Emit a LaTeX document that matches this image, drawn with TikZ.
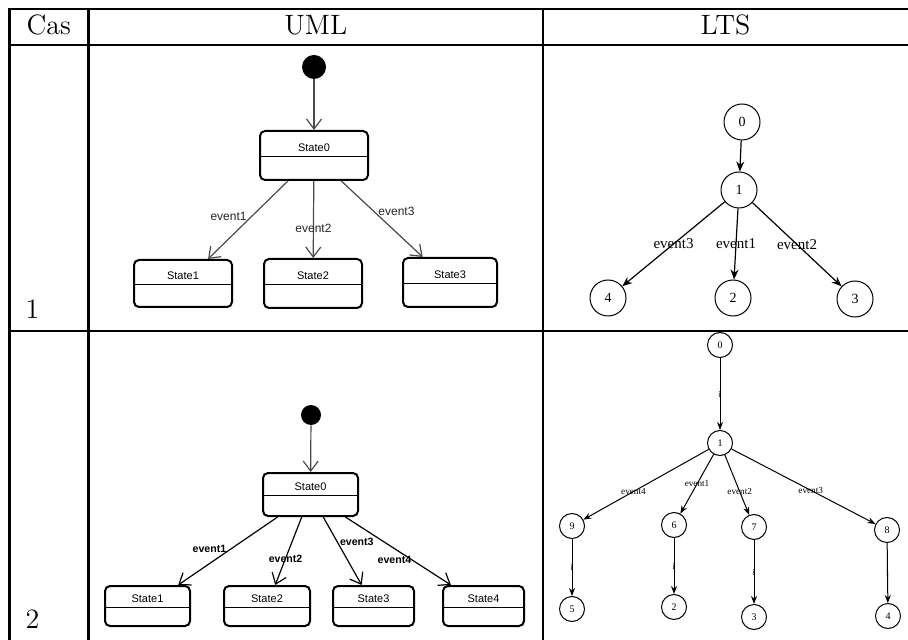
\documentclass[tikz,border=0pt]{standalone}
\usepackage{fontspec}
\usepackage{tikz}
\usetikzlibrary{arrows.meta,positioning}
\newfontfamily\umlfont{Liberation Sans}
\newfontfamily\ltsfont{Liberation Serif}
\definecolor{cR}{HTML}{000000}
\definecolor{cE}{HTML}{4a4a4a}
\tikzset{
  rule/.style={line width=1.4pt,cR},
  hd/.style={anchor=base,font=\fontsize{14}{16}\selectfont},
  initdot/.style={circle,fill=black,inner sep=0pt,minimum size=#1},
  ustate/.style={draw,line width=1pt,rounded corners=2.5pt,inner sep=0pt,
    path picture={\draw[line width=.5pt]
      ([yshift=-.5pt]path picture bounding box.west) --
      ([yshift=-.5pt]path picture bounding box.east);},
    label={[font=\umlfont\fontsize{5.5}{6}\selectfont,yshift=3.8pt]center:#1}},
  uarr/.style={-{Straight Barb[length=5pt,width=7.5pt]},cE,line width=.6pt},
  elab/.style={font=\umlfont\fontsize{6}{7}\selectfont,text=black!85,inner sep=2pt},
  elabb/.style={font=\umlfont\bfseries\fontsize{5.3}{6}\selectfont,text=black,inner sep=2pt},
  lnode/.style={circle,draw,line width=.5pt,inner sep=0pt,minimum size=#1},
  larr/.style={-{Stealth[length=5pt,width=4pt]},line width=.6pt},
  sarr/.style={-{Stealth[length=4pt,width=3pt]},line width=.5pt},
  llab/.style={font=\ltsfont\fontsize{7.5}{8}\selectfont,inner sep=0pt},
  slab/.style={font=\ltsfont\fontsize{4.6}{5}\selectfont,inner sep=0pt},
  ilab/.style={font=\ltsfont\fontsize{3.5}{4}\selectfont,inner sep=0pt},
}

\begin{document}
\begin{tikzpicture}[x=.5pt,y=-.5pt]
  \useasboundingbox (0,0) rectangle (908,640);
  \foreach \y in {9,45,331} \draw[rule] (8.8,\y) -- (908,\y);
  \foreach \x in {9.5,88.5,543} \draw[rule] (\x,8.3) -- (\x,640);
  \node[hd] (hcas) at (48.75,35) {Cas};
  \node[hd] (huml) at (315.75,35) {UML};
  \node[hd] (hlts) at (725.5,35) {LTS};
  \node[hd] (case1) at (32.5,319) {1};
  \node[hd] (case2) at (32.5,628) {2};

  % UML, case 1
  \node[initdot=12pt] (i1) at (314,67) {};
  \node[ustate=State0,minimum width=54pt,minimum height=24.5pt] (a0) at (314,155.5) {};
  \node[ustate=State1,minimum width=49pt,minimum height=23.5pt] (a1) at (183,283.5) {};
  \node[ustate=State2,minimum width=49pt,minimum height=24.5pt] (a2) at (313,283.5) {};
  \node[ustate=State3,minimum width=47pt,minimum height=24.5pt] (a3) at (450,282.5) {};
  \draw[uarr] (i1) -- (a0);
  \draw[uarr] (a0) -- node[elab,pos=.46,left]{event1} (a1);
  \draw[uarr] (a0) -- node[elab,pos=.62]{event2} (a2);
  \draw[uarr] (a0) -- node[elab,pos=.4,right]{event3} (a3);

  % UML, case 2
  \node[initdot=10pt] (i2) at (311,415) {};
  \node[ustate=State0,minimum width=47.5pt,minimum height=21.5pt] (b0) at (310.5,494.5) {};
  \foreach \n/\x/\w in {1/147.5/42.5,2/267/43,3/373.5/40.5,4/483.5/40.5}
    \node[ustate=State\n,minimum width=\w pt,minimum height=20pt] (b\n) at (\x,606) {};
  \draw[uarr] (i2) -- (b0);
  \draw[uarr,black] (b0) -- node[elabb,pos=.47,left]{event1} (b1);
  \draw[uarr,black] (b0) -- node[elabb,pos=.61]{event2} (b2);
  \draw[uarr,black] (b0) -- node[elabb,pos=.37,right,inner sep=1pt]{event3} (b3);
  \draw[uarr,black] (b0) -- node[elabb,pos=.63,left,inner sep=0pt]{event4} (b4);

  % LTS, case 1
  \begin{scope}[every node/.append style={font=\ltsfont\fontsize{7}{8}\selectfont}]
    \node[lnode=18pt] (p0) at (742,122) {0};
    \node[lnode=18pt] (p1) at (739,190) {1};
    \node[lnode=18pt] (p4) at (608,298) {4};
    \node[lnode=18pt] (p2) at (733,298) {2};
    \node[lnode=18pt] (p3) at (855,299) {3};
  \end{scope}
  \draw[larr] (p0) -- node[ilab]{i} (p1);
  \foreach \t/\e in {4/event3,2/event1,3/event2}
    \draw[larr] (p1) -- node[llab]{\e} (p\t);

  % LTS, case 2
  \begin{scope}[every node/.append style={font=\ltsfont\fontsize{5}{6}\selectfont}]
    \foreach \n/\x/\y in {0/720/345,1/720/443,9/572/526,6/674/525,7/754/527,
                          8/887/530,5/572/609,2/674/607,3/754/617,4/888/616}
      \node[lnode=12.5pt] (q\n) at (\x,\y) {\n};
  \end{scope}
  \draw[sarr] (q0) -- node[slab]{i} (q1);
  \foreach \t/\e/\p in {9/event4/.6,6/event1/.5,7/event2/.61,8/event3/.55}
    \draw[sarr] (q1) -- node[slab,pos=\p]{\e} (q\t);
  \foreach \s/\t in {9/5,6/2,7/3,8/4}
    \draw[sarr] (q\s) -- node[slab]{i} (q\t);
\end{tikzpicture}
\end{document}
